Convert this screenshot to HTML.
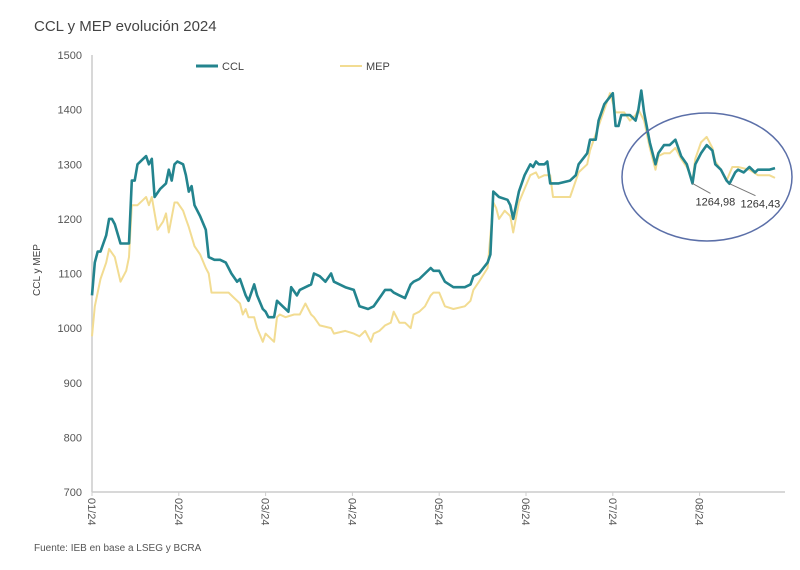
<!DOCTYPE html>
<html><head><meta charset="utf-8"><style>
body{margin:0;background:#fff;}
svg{display:block;font-family:"Liberation Sans",sans-serif;}
</style></head><body>
<svg id="chart" width="800" height="570" viewBox="0 0 800 570">
<text x="34" y="31" font-size="15" fill="#444">CCL y MEP evolución 2024</text>
<text x="34" y="551" font-size="10" fill="#555">Fuente: IEB en base a LSEG y BCRA</text>
<text transform="translate(40,270) rotate(-90)" text-anchor="middle" font-size="10" fill="#444">CCL y MEP</text>
<g id="axes"></g>
<g id="series"></g>
<g>
<line x1="196" y1="66" x2="218" y2="66" stroke="#23848e" stroke-width="3"/>
<text x="222" y="70" font-size="11" fill="#444">CCL</text>
<line x1="340" y1="66" x2="362" y2="66" stroke="#f2dc92" stroke-width="2"/>
<text x="366" y="70" font-size="11" fill="#444">MEP</text>
</g>
<ellipse cx="707" cy="177" rx="85" ry="64" fill="none" stroke="#5b6fa8" stroke-width="1.5"/>
<g id="annot"></g>
</svg>
<script>
const monthLabels=["01/24","02/24","03/24","04/24","05/24","06/24","07/24","08/24"];
const yTicks=[700,800,900,1000,1100,1200,1300,1400,1500];
const cclDays=[0,1,2,3,5,6,7,8,10,13,14,15,16,18,19,20,21,22,24,26,27,28,29,30,32,33,34,35,36,38,40,41,43,45,47,49,51,52,54,55,57,58,60,61,62,64,65,67,69,70,72,73,75,77,78,80,82,84,85,89,92,94,97,99,101,103,105,106,108,110,112,113,115,117,119,120,122,124,127,131,133,134,136,139,140,141,143,146,147,148,150,152,154,155,156,157,159,160,161,164,168,170,171,174,175,177,178,180,183,184,185,186,189,191,192,193,194,196,198,199,201,203,205,206,207,209,211,212,214,216,218,219,221,223,224,226,227,229,231,233,234,238,240];
const cclValues=[1060,1120,1140,1140,1170,1200,1200,1190,1155,1155,1270,1270,1300,1310,1315,1300,1310,1240,1255,1265,1290,1270,1300,1305,1300,1280,1250,1260,1225,1205,1180,1130,1125,1125,1120,1100,1085,1090,1060,1050,1080,1060,1035,1030,1020,1020,1050,1040,1030,1075,1060,1070,1075,1080,1100,1095,1085,1100,1085,1075,1070,1040,1035,1040,1055,1070,1070,1065,1060,1055,1080,1085,1090,1100,1110,1105,1105,1085,1075,1075,1080,1095,1100,1120,1135,1250,1240,1235,1225,1200,1250,1280,1300,1295,1305,1300,1300,1305,1265,1265,1270,1280,1300,1320,1345,1345,1380,1410,1430,1370,1370,1390,1390,1380,1400,1435,1395,1340,1300,1320,1335,1335,1345,1330,1315,1300,1265,1300,1320,1335,1325,1300,1290,1270,1264.43,1285,1290,1285,1295,1285,1290,1290,1293];
const mepDays=[0,1,3,5,6,8,10,12,13,14,16,18,19,20,21,23,25,26,27,29,30,32,33,34,36,38,40,41,42,45,48,50,52,53,54,55,57,58,60,61,62,64,65,66,68,71,73,75,77,78,80,84,85,89,92,94,96,98,99,101,103,105,106,108,110,112,113,115,117,119,120,122,124,127,131,133,134,136,139,141,142,143,145,147,148,150,152,154,156,157,159,161,162,164,168,170,171,174,175,178,180,182,184,185,187,189,191,192,194,196,198,199,201,203,205,207,209,211,212,214,216,218,219,221,223,225,227,231,234,238,240];
const mepValues=[985,1040,1090,1120,1145,1130,1085,1105,1130,1225,1225,1235,1240,1225,1240,1180,1195,1210,1175,1230,1230,1215,1200,1185,1150,1135,1110,1100,1065,1065,1065,1055,1045,1025,1035,1020,1020,1000,975,990,985,975,1020,1025,1020,1025,1025,1045,1025,1020,1005,1000,990,995,990,985,995,975,990,995,1005,1010,1030,1010,1010,1000,1025,1030,1040,1060,1065,1065,1040,1035,1040,1050,1070,1085,1110,1230,1220,1200,1215,1205,1175,1230,1255,1280,1285,1275,1280,1280,1240,1240,1240,1270,1285,1300,1325,1370,1400,1430,1395,1395,1395,1380,1390,1400,1380,1330,1290,1315,1320,1320,1330,1310,1295,1270,1310,1340,1350,1330,1305,1290,1270,1295,1295,1290,1280,1280,1275];
const annotDays=[211,224];
const annotValues=[1264.98,1264.43];
const annotLabels=["1264,98","1264,43"];

const NS="http://www.w3.org/2000/svg";
const X0=92,X1=785,Y0=492,Y1=55;
const xScale=d=>X0+d/30.5*86.8;
const yScale=v=>Y0-(v-700)/800*(Y0-Y1);
function mk(tag,attrs,parent){const e=document.createElementNS(NS,tag);for(const k in attrs)e.setAttribute(k,attrs[k]);parent.appendChild(e);return e;}
const axes=document.getElementById('axes');
const yAxis=mk('line',{x1:X0,y1:Y1,x2:X0,y2:Y0,stroke:'#ccc','stroke-width':1.5},axes);


const xAxis=mk('line',{x1:X0,y1:Y0,x2:X1,y2:Y0,stroke:'#ccc','stroke-width':1.5},axes);


yTicks.forEach(v=>{
  const t=mk('text',{x:X0-10,y:yScale(v)+4,'text-anchor':'end','font-size':11,fill:'#555'},axes);
  t.textContent=v;
  
  
});
monthLabels.forEach((m,i)=>{
  const x=xScale(i*30.5);
  const tk=mk('line',{x1:x,y1:Y0,x2:x,y2:Y0+4,stroke:'#ccc'},axes);
  
  
  const t=mk('text',{transform:`translate(${x-4},${Y0+6}) rotate(90)`,'font-size':11,fill:'#555'},axes);
  t.textContent=m;
  
  
});
const ser=document.getElementById('series');
function path(days,vals){return days.map((d,i)=>(i?'L':'M')+xScale(d).toFixed(1)+','+yScale(vals[i]).toFixed(1)).join(' ');}
const mep=mk('path',{d:path(mepDays,mepValues),fill:'none',stroke:'#f2dc92','stroke-width':2,'stroke-linejoin':'round'},ser);


const ccl=mk('path',{d:path(cclDays,cclValues),fill:'none',stroke:'#23848e','stroke-width':2.6,'stroke-linejoin':'round'},ser);


const an=document.getElementById('annot');
const offs=[[18,10],[26,12]];
annotDays.forEach((d,i)=>{
  const x=xScale(d),y=yScale(annotValues[i]);
  const l=mk('line',{x1:x,y1:y,x2:x+offs[i][0],y2:y+offs[i][1],stroke:'#777','stroke-width':1},an);
  
  
  const t=mk('text',{x:x+offs[i][0]-15,y:y+offs[i][1]+12,'font-size':11,fill:'#333'},an);
  t.textContent=annotLabels[i];
  
  
});
</script>
</body></html>
